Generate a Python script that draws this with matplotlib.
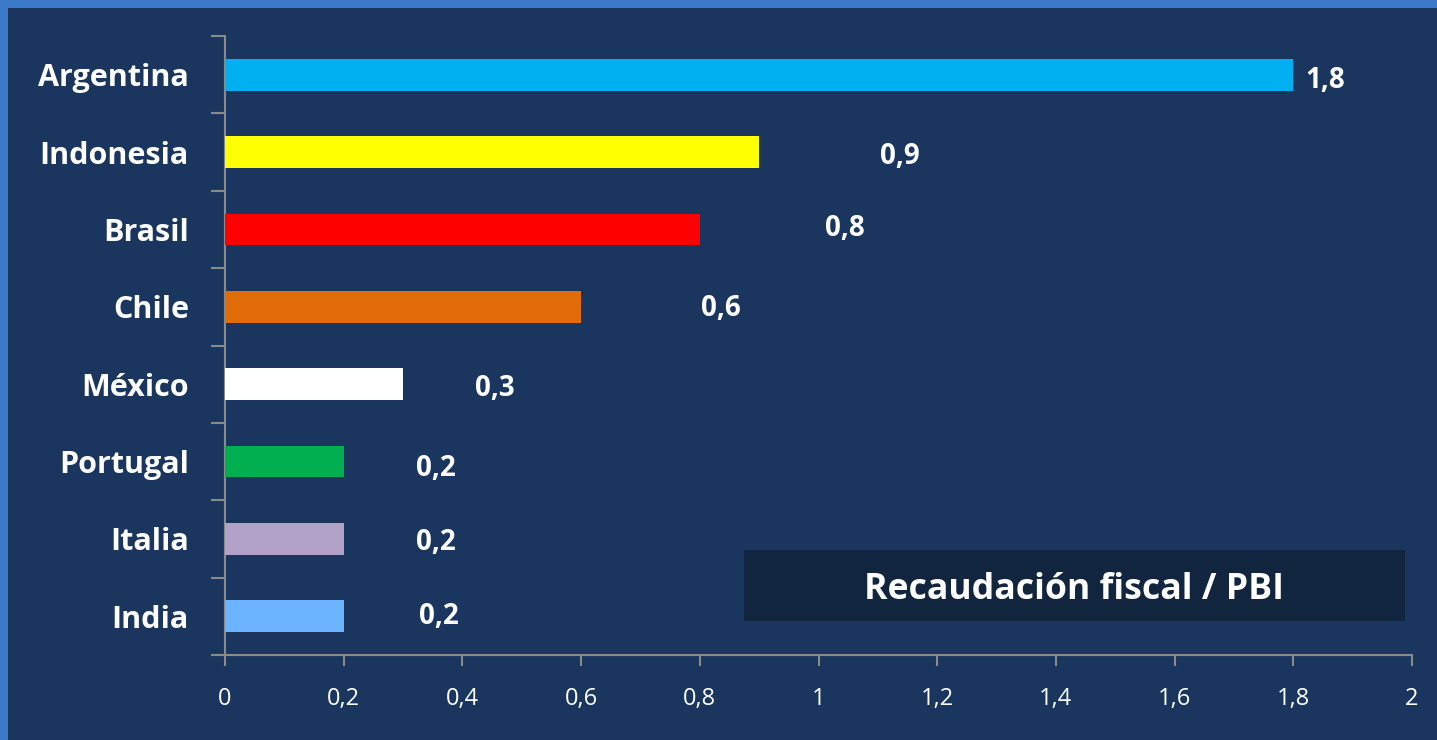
import matplotlib.pyplot as plt
from matplotlib.patches import Rectangle
from matplotlib.ticker import FixedLocator, FuncFormatter

paises = ['Argentina', 'Indonesia', 'Brasil', 'Chile', 'México', 'Portugal', 'Italia', 'India']
valores = [1.8, 0.9, 0.8, 0.6, 0.3, 0.2, 0.2, 0.2]
colores = ['#00b0f0', '#ffff00', '#ff0000', '#e36c0a', '#ffffff', '#00b050', '#b3a2c7', '#6cb4ff']
# where the labels were dragged to in the original (offset in data units / points)
dx_label = [0.053, 0.237, 0.245, 0.236, 0.155, 0.156, 0.156, 0.161]
dy_label = [-4, -3.5, 0.5, -1, -3, -5, -2.5, 0]
titulo = 'Recaudación fiscal / PBI'

fondo = '#1a365e'
gris = '#8a8a8a'

fig = plt.figure(figsize=(14.37, 7.40), dpi=100)
fig.patch.set_facecolor('#3b78c7')
fig.patches.append(Rectangle((8 / 1437, 0), 1, 1 - 8 / 740, transform=fig.transFigure,
                             facecolor=fondo, edgecolor='none', zorder=-5))

ax = fig.add_axes([225 / 1437, 85 / 740, 1187 / 1437, 619 / 740])
ax.set_facecolor('none')

y = list(range(len(paises)))
ax.barh(y, valores, height=0.41, color=colores, zorder=3)

for i, v in enumerate(valores):
    ax.annotate(f'{v:.1f}'.replace('.', ','), (v + dx_label[i], i), xytext=(0, dy_label[i]),
                textcoords='offset points', ha='center', va='center',
                color='white', fontsize=20, fontweight='bold', family='Open Sans')

ax.set_xlim(0, 2)
ax.set_ylim(len(paises) - 0.5, -0.5)

ax.set_xticks([i * 0.2 for i in range(11)])
ax.xaxis.set_major_formatter(FuncFormatter(lambda x, p: f'{x:g}'.replace('.', ',')))
ax.tick_params(axis='x', colors=gris, length=8, width=1.5, pad=15, labelcolor='white',
               labelsize=17)
for t in ax.get_xticklabels():
    t.set_family('Open Sans')

ax.yaxis.set_major_locator(FixedLocator([i - 0.5 for i in range(len(paises) + 1)]))
ax.yaxis.set_major_formatter(FuncFormatter(lambda v, p: ''))
ax.yaxis.set_minor_locator(FixedLocator(y))
ax.set_yticklabels(paises, minor=True)
ax.tick_params(axis='y', which='major', colors=gris, length=10, width=1.5)
ax.tick_params(axis='y', which='minor', length=0, pad=26, labelcolor='white', labelsize=22)
for t in ax.get_yticklabels(minor=True):
    t.set_family('Open Sans')
    t.set_fontweight('bold')

for s in ['top', 'right']:
    ax.spines[s].set_visible(False)
for s in ['left', 'bottom']:
    ax.spines[s].set_color(gris)
    ax.spines[s].set_linewidth(1.5)

fig.patches.append(Rectangle((744 / 1437, 1 - 621 / 740), 661 / 1437, 71 / 740,
                             transform=fig.transFigure, facecolor='#12253f',
                             edgecolor='none', zorder=1))
fig.text((744 + 661 / 2) / 1437, 1 - 590 / 740, titulo, ha='center', va='center',
         color='white', fontsize=25.7, fontweight='bold', family='Open Sans', zorder=2)

fig.savefig('out.png', dpi=100, facecolor=fig.get_facecolor())
